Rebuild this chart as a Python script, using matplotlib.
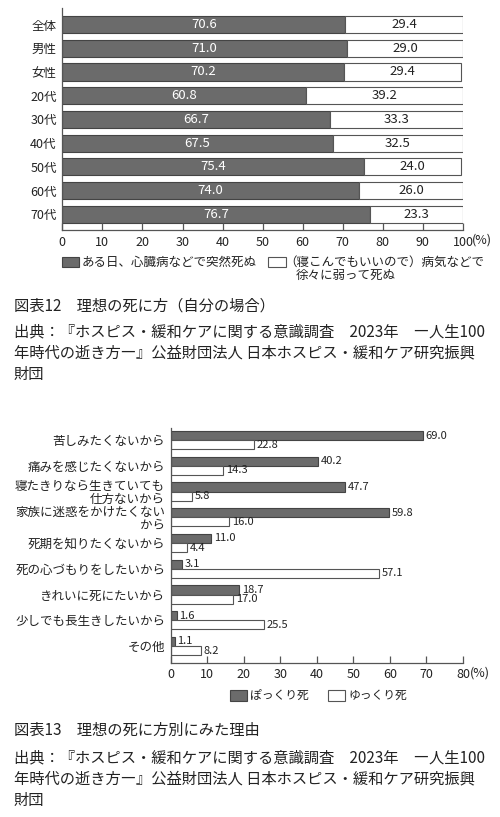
import numpy as np
import matplotlib
matplotlib.use("Agg")
import matplotlib.pyplot as plt
from matplotlib.patches import Rectangle

plt.rcParams['font.family'] = ['Noto Sans CJK JP', 'DejaVu Sans']

# ---- Chart 1 data ----
groups1 = ["全体", "男性", "女性", "20代", "30代", "40代", "50代", "60代", "70代"]
sudden = [70.6, 71.0, 70.2, 60.8, 66.7, 67.5, 75.4, 74.0, 76.7]
gradual = [29.4, 29.0, 29.4, 39.2, 33.3, 32.5, 24.0, 26.0, 23.3]
xticks1 = [0, 10, 20, 30, 40, 50, 60, 70, 80, 90, 100]
legend1 = ["ある日、心臓病などで突然死ぬ", "（寝こんでもいいので）病気などで", "徐々に弱って死ぬ"]

# ---- Chart 2 data ----
reasons = ["苦しみたくないから", "痛みを感じたくないから", "寝たきりなら生きていても\n仕方ないから",
           "家族に迷惑をかけたくない\nから", "死期を知りたくないから", "死の心づもりをしたいから",
           "きれいに死にたいから", "少しでも長生きしたいから", "その他"]
pokkuri = [69.0, 40.2, 47.7, 59.8, 11.0, 3.1, 18.7, 1.6, 1.1]
yukkuri = [22.8, 14.3, 5.8, 16.0, 4.4, 57.1, 17.0, 25.5, 8.2]
xticks2 = [0, 10, 20, 30, 40, 50, 60, 70, 80]
legend2 = ["ぽっくり死", "ゆっくり死"]

captions = [
    "図表12　理想の死に方（自分の場合）",
    "図表13　理想の死に方別にみた理由",
]
source_lines = [
    "出典：『ホスピス・緩和ケアに関する意識調査　2023年　―人生100",
    "年時代の逝き方―』公益財団法人 日本ホスピス・緩和ケア研究振興",
    "財団",
]
unit = "(%)"

W, H = 500, 817
DARK = "#6b6b6b"
EDGE = "#444444"
TXT = "#222222"

fig = plt.figure(figsize=(W / 100, H / 100), dpi=100)
fig.patch.set_facecolor("white")


def fx(x):
    return x / W


def fy(y):
    return 1 - y / H


def style_axes(ax):
    for s in ["top", "right"]:
        ax.spines[s].set_visible(False)
    for s in ["left", "bottom"]:
        ax.spines[s].set_color("#555555")
        ax.spines[s].set_linewidth(0.9)
    ax.tick_params(axis="x", direction="in", length=5, width=0.9, color="#555555",
                   labelsize=9, labelcolor=TXT, pad=4)
    ax.tick_params(axis="y", length=0, labelsize=9, labelcolor=TXT, pad=4)


# ---------------- Chart 1 ----------------
ax1 = fig.add_axes([fx(62.3), fy(230), fx(463) - fx(62.3), (230 - 8) / H])
y1 = np.arange(len(groups1))
b1 = ax1.barh(y1, sudden, height=0.72, color=DARK, edgecolor=EDGE, linewidth=0.8)
b2 = ax1.barh(y1, gradual, left=sudden, height=0.72, color="white", edgecolor="#555555", linewidth=0.8)
ax1.bar_label(b1, labels=[f"{v:.1f}" for v in sudden], label_type="center", color="white", fontsize=9.5)
ax1.bar_label(b2, labels=[f"{v:.1f}" for v in gradual], label_type="center", color=TXT, fontsize=9.5)
ax1.set_xlim(0, 100)
ax1.set_ylim(len(groups1) - 1 + 0.667, -0.7)
ax1.set_yticks(y1)
ax1.set_yticklabels(groups1)
ax1.set_xticks(xticks1)
ax1.set_xticklabels([str(t) for t in xticks1])
style_axes(ax1)
fig.text(fx(472), fy(240), unit, ha="left", va="center", fontsize=9, color=TXT)

# legend 1 (manual)
fig.add_artist(Rectangle((fx(62), fy(267)), fx(17), 10 / H, facecolor=DARK, edgecolor=EDGE,
                         linewidth=0.8, transform=fig.transFigure))
fig.text(fx(82), fy(262), legend1[0], ha="left", va="center", fontsize=9, color=TXT)
fig.add_artist(Rectangle((fx(268), fy(267)), fx(18), 10 / H, facecolor="white", edgecolor="#555555",
                         linewidth=0.8, transform=fig.transFigure))
fig.text(fx(284), fy(262), legend1[1], ha="left", va="center", fontsize=9, color=TXT)
fig.text(fx(296), fy(275), legend1[2], ha="left", va="center", fontsize=9, color=TXT)

# captions 1
fig.text(fx(14), fy(306), captions[0], ha="left", va="center", fontsize=11, color=TXT)
for i, line in enumerate(source_lines):
    fig.text(fx(14), fy(332 + 21 * i), line, ha="left", va="center", fontsize=11, color=TXT)

# ---------------- Chart 2 ----------------
ax2 = fig.add_axes([fx(170.7), fy(662.7), fx(463) - fx(170.7), (662.7 - 428.3) / H])
y2 = np.arange(len(reasons))
h = 0.356
c1 = ax2.barh(y2 - h / 2, pokkuri, height=h, color=DARK, edgecolor=EDGE, linewidth=0.8)
c2 = ax2.barh(y2 + h / 2, yukkuri, height=h, color="white", edgecolor="#555555", linewidth=0.8)
ax2.bar_label(c1, labels=[f"{v:.1f}" for v in pokkuri], padding=2, fontsize=8, color=TXT)
ax2.bar_label(c2, labels=[f"{v:.1f}" for v in yukkuri], padding=2, fontsize=8, color=TXT)
ax2.set_xlim(0, 80)
ax2.set_ylim(len(reasons) - 1 + 0.65, -0.46)
ax2.set_yticks(y2)
ax2.set_yticklabels(reasons, linespacing=0.95)
ax2.set_xticks(xticks2)
ax2.set_xticklabels([str(t) for t in xticks2])
style_axes(ax2)
fig.text(fx(470), fy(673), unit, ha="left", va="center", fontsize=9, color=TXT)

# legend 2 (manual)
fig.add_artist(Rectangle((fx(230), fy(700.5)), fx(17), 10.5 / H, facecolor=DARK, edgecolor=EDGE,
                         linewidth=0.8, transform=fig.transFigure))
fig.text(fx(250), fy(695), legend2[0], ha="left", va="center", fontsize=8.5, color=TXT)
fig.add_artist(Rectangle((fx(328), fy(700.5)), fx(17), 10.5 / H, facecolor="white", edgecolor="#555555",
                         linewidth=0.8, transform=fig.transFigure))
fig.text(fx(348), fy(695), legend2[1], ha="left", va="center", fontsize=8.5, color=TXT)

# captions 2
fig.text(fx(14), fy(730), captions[1], ha="left", va="center", fontsize=11, color=TXT)
for i, line in enumerate(source_lines):
    fig.text(fx(14), fy(758 + 21 * i), line, ha="left", va="center", fontsize=11, color=TXT)

fig.savefig("out.png", dpi=100, facecolor="white")
